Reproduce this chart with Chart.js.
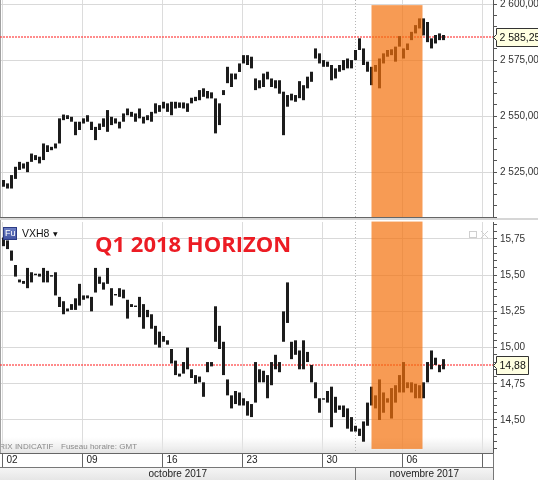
<!DOCTYPE html>
<html>
<head>
<meta charset="utf-8">
<script src="https://cdn.jsdelivr.net/npm/chart.js@4.4.1/dist/chart.umd.min.js"></script>
<style>
    html, body { margin: 0; padding: 0; background: #fff; }
    #wrap { position: relative; width: 538px; height: 480px; overflow: hidden; background: #d6d6d6; }
    canvas { background: #fff; }
    #top { position: absolute; left: 0; top: 0; }
    #bot { position: absolute; left: 0; top: 220px; }
</style>
</head>
<body>
<div id="wrap">
    <canvas id="top" width="538" height="218"></canvas>
    <canvas id="bot" width="538" height="260"></canvas>
</div>
<script>
// --- data: one bar per quarter of a trading day (low / high) ---
const spLow = [2518.5, 2517.7, 2517.7, 2522, 2526, 2526.6, 2525, 2529.6, 2530.4, 2528.9,
    2530.4, 2534, 2534.8, 2535.6, 2537.8, 2548.2, 2548.7, 2547.5, 2541.5, 2543.8,
    2546.7, 2547.5, 2543.8, 2539.3, 2543.8, 2545.2, 2543, 2546, 2546.7, 2544.5,
    2547.5, 2550.4, 2549.7, 2547.5, 2549, 2546.7, 2548.2, 2547.5, 2551.2, 2551.9,
    2553.4, 2551.9, 2550.4, 2553.4, 2553.7, 2553.4, 2551.9, 2555.7, 2556.7, 2557.1,
    2558.6, 2557.9, 2557.9, 2542.3, 2546, 2559.4, 2564.7, 2563, 2566.4, 2569.7,
    2573.5, 2572.8, 2571.3, 2561.6, 2562.4, 2563, 2566.4, 2563, 2562.4, 2560,
    2541.5, 2554.2, 2557, 2556.4, 2558, 2557.1, 2562.4, 2565.3, 2575.7, 2573.5,
    2572, 2572, 2566, 2566.8, 2569.8, 2570.5, 2571.3, 2571.3, 2575, 2579.5,
    2572.8, 2569.8, 2563.8, 2569.8, 2562.4, 2573.5, 2576.5, 2577.2, 2574.3, 2581,
    2575.7, 2579.5, 2583.9, 2586.9, 2589.1, 2586, 2583, 2580.2, 2582.4, 2583.9, 2583.9];
const spHigh = [2521.5, 2520, 2523.7, 2527.4, 2529.6, 2528.9, 2529.6, 2533.3, 2532.6, 2531.9,
    2537.8, 2537, 2536.3, 2537.8, 2549, 2550.7, 2550.4, 2549.7, 2547.5, 2547.5,
    2549, 2550.4, 2547.5, 2545.2, 2546.7, 2549, 2552.7, 2549.7, 2549, 2547.5,
    2551.2, 2553.4, 2551.9, 2551.2, 2553.4, 2549.7, 2550.4, 2551.9, 2555.7, 2554.9,
    2556.4, 2555.7, 2556.4, 2556.4, 2556.1, 2556.1, 2555.7, 2558.2, 2558.6, 2561.6,
    2562.4, 2561.2, 2560.6, 2557.9, 2555.7, 2561.6, 2572, 2569, 2569, 2573.5,
    2577.2, 2577.2, 2576.5, 2566.8, 2566, 2569, 2569.8, 2566.8, 2566, 2566,
    2560.9, 2559.4, 2560, 2559.4, 2565.6, 2563.8, 2567.6, 2569.8, 2580.2, 2578,
    2575, 2574.3, 2572.8, 2571.3, 2572.8, 2575, 2575.7, 2575, 2579.5, 2584.7,
    2580.2, 2574.3, 2572, 2572.8, 2575.7, 2578, 2579.5, 2579.8, 2581, 2585.7,
    2580.2, 2582.4, 2587.6, 2590.6, 2593.6, 2593.6, 2592, 2584.7, 2586.2, 2586.9, 2586.2];
const vxLow = [15.70, 15.68, 15.60, 15.49, 15.45, 15.44, 15.41, 15.45, 15.50, 15.49,
    15.45, 15.45, 15.49, 15.36, 15.28, 15.23, 15.25, 15.26, 15.26, 15.29,
    15.33, 15.34, 15.25, 15.38, 15.44, 15.40, 15.44, 15.29, 15.36, 15.35,
    15.34, 15.20, 15.28, 15.28, 15.21, 15.13, 15.21, 15.13, 15.02, 15.00,
    15.04, 15.02, 14.89, 14.81, 14.80, 14.82, 14.85, 14.79, 14.75, 14.76,
    14.66, 14.83, 14.87, 15.04, 14.99, 14.81, 14.67, 14.58, 14.61, 14.60,
    14.60, 14.53, 14.52, 14.62, 14.76, 14.76, 14.65, 14.74, 14.85, 14.83,
    15.04, 15.17, 14.92, 14.95, 14.85, 14.85, 14.90, 14.76, 14.65, 14.55,
    14.64, 14.62, 14.45, 14.55, 14.57, 14.52, 14.44, 14.42, 14.42, 14.39,
    14.35, 14.46, 14.60, 14.58, 14.50, 14.55, 14.62, 14.51, 14.62, 14.69,
    14.69, 14.72, 14.69, 14.65, 14.65, 14.65, 14.76, 14.85, 14.88, 14.83, 14.85];
const vxHigh = [15.76, 15.74, 15.67, 15.57, 15.47, 15.46, 15.55, 15.52, 15.51, 15.51,
    15.55, 15.53, 15.50, 15.52, 15.35, 15.32, 15.27, 15.30, 15.34, 15.44,
    15.36, 15.36, 15.35, 15.55, 15.49, 15.45, 15.55, 15.41, 15.37, 15.41,
    15.40, 15.33, 15.30, 15.29, 15.35, 15.30, 15.26, 15.23, 15.15, 15.11,
    15.08, 15.05, 14.99, 14.91, 14.82, 14.90, 15.00, 14.85, 14.81, 14.80,
    14.76, 14.90, 14.90, 15.285, 15.15, 15.04, 14.78, 14.67, 14.70, 14.69,
    14.65, 14.63, 14.61, 14.90, 14.85, 14.84, 14.81, 14.90, 14.95, 14.90,
    15.25, 15.45, 15.04, 15.05, 14.98, 15.05, 14.97, 14.88, 14.76, 14.65,
    14.65, 14.70, 14.73, 14.66, 14.60, 14.60, 14.58, 14.52, 14.46, 14.44,
    14.49, 14.62, 14.73, 14.67, 14.78, 14.69, 14.65, 14.72, 14.74, 14.81,
    14.90, 14.76, 14.76, 14.75, 14.74, 14.76, 14.90, 14.98, 14.93, 14.88, 14.92];

// x axis, in bar slots (4 slots per day, 20 per week)
const weekTicks = [-0.25, 19.75, 39.75, 59.75, 79.75, 99.75, 119.75];
const weekLabels = ['02', '09', '16', '23', '30', '06', ''];
const monthStart = 87.75; // 1er novembre
const monthLabels = ['octobre 2017', 'novembre 2017'];
const highlight = [92, 104.75];

const spMajor = [2525, 2550, 2575, 2600];
const vxMajor = [14.50, 14.75, 15.00, 15.25, 15.50, 15.75];
const spLast = 2585.25;
const vxLast = 14.88;

const FONT = 'Liberation Sans';

const fmt = v => {
    let s = v.toFixed(2).replace('.', ',');
    if (v >= 1000) s = s.slice(0, -6) + ' ' + s.slice(-6);
    return s;
};
const isIn = (list, v) => list.some(m => Math.abs(m - v) < 1e-6);
const steps = (a, b, st) => {
    const out = [];
    for (let v = a; v <= b + 1e-9; v = +(v + st).toFixed(4)) out.push(v);
    return out;
};

function xScale(withLabels) {
    return {
        type: 'linear', min: -0.875, max: 122.375, offset: false,
        afterBuildTicks: s => { s.ticks = weekTicks.map(v => ({ value: v })); },
        afterFit: s => {
            s.height = withLabels ? 27 : 1;
            s.paddingLeft = 0; s.paddingRight = 0;
        },
        grid: { color: '#dcdcdc', lineWidth: 1, offset: false, drawTicks: withLabels, tickLength: 14, tickColor: '#666' },
        border: { color: '#666' },
        ticks: {
            display: withLabels, autoSkip: false, maxRotation: 0, align: 'start',
            labelOffset: 4, padding: -13, color: '#222',
            font: { family: FONT, size: 10 },
            callback: (v, i) => weekLabels[i]
        }
    };
}

function yScale(min, max, step, major) {
    return {
        position: 'right', min: min, max: max,
        afterBuildTicks: s => { s.ticks = steps(Math.ceil(min / step) * step, max, step).map(v => ({ value: v })); },
        afterFit: s => {
            s.width = 45;
            s.paddingTop = 0; s.paddingBottom = 0;
        },
        grid: {
            color: c => (c.tick && isIn(major, c.tick.value)) ? '#d9d9d9' : 'rgba(0,0,0,0)',
            tickColor: '#555', tickLength: 4, lineWidth: 1
        },
        border: { color: '#555' },
        ticks: {
            autoSkip: false, padding: 3, color: '#333',
            font: { family: FONT, size: 10 },
            callback: v => isIn(major, v) ? fmt(v) : ''
        }
    };
}

function overlay(last, hl, tagW) {
    return {
        id: 'overlay',
        beforeDatasetsDraw(chart) {
            const { ctx, chartArea: a, scales: { x, y } } = chart;
            ctx.save();
            // left frame edge
            ctx.strokeStyle = '#a0a0a0';
            ctx.beginPath(); ctx.moveTo(0.5, 0); ctx.lineTo(0.5, a.bottom); ctx.stroke();
            const xm = Math.round(x.getPixelForValue(monthStart)) + 0.5;
            ctx.strokeStyle = '#b5b5b5';
            ctx.setLineDash([1, 2]);
            ctx.beginPath(); ctx.moveTo(xm, a.top); ctx.lineTo(xm, a.bottom); ctx.stroke();
            // last price line
            const yp = Math.round(y.getPixelForValue(last));
            ctx.strokeStyle = 'rgba(255,50,50,0.75)';
            ctx.lineWidth = 1.5;
            ctx.setLineDash([2, 1]);
            ctx.beginPath(); ctx.moveTo(a.left, yp); ctx.lineTo(a.right, yp); ctx.stroke();
            ctx.restore();
        },
        afterDatasetsDraw(chart) {
            const { ctx, scales: { x, y } } = chart;
            const x0 = x.getPixelForValue(highlight[0]), x1 = x.getPixelForValue(highlight[1]);
            const y0 = y.getPixelForValue(hl[0]), y1 = y.getPixelForValue(hl[1]);
            ctx.save();
            ctx.fillStyle = 'rgba(243,112,12,0.7)';
            ctx.fillRect(x0, y0, x1 - x0, y1 - y0);
            ctx.restore();
        },
        afterDraw(chart) {
            const { ctx, chartArea: a, scales: { y } } = chart;
            const yp = Math.round(y.getPixelForValue(last)) + 0.5;
            const l = a.right + 3.5;
            ctx.save();
            ctx.fillStyle = '#ffffe1';
            ctx.strokeStyle = '#333';
            ctx.setLineDash([]);
            ctx.beginPath();
            ctx.moveTo(l, yp - 9); ctx.lineTo(l + tagW, yp - 9); ctx.lineTo(l + tagW, yp + 9);
            ctx.lineTo(l, yp + 9); ctx.lineTo(l, yp + 3); ctx.lineTo(l - 3, yp); ctx.lineTo(l, yp - 3);
            ctx.closePath();
            ctx.fill(); ctx.stroke();
            ctx.fillStyle = '#111';
            ctx.font = '10.5px "' + FONT + '"';
            ctx.textBaseline = 'middle';
            ctx.fillText(fmt(last), l + 3, yp + 1);
            ctx.restore();
        }
    };
}

// frame of the lower panel: footer text, date rows, symbol, title
const lowerFrame = {
    id: 'lowerFrame',
    beforeDatasetsDraw(chart) {
        const { ctx, chartArea: a } = chart;
        const g = ctx.createLinearGradient(0, a.bottom - 16, 0, a.bottom);
        g.addColorStop(0, 'rgba(235,235,235,0)');
        g.addColorStop(1, 'rgba(228,228,228,1)');
        ctx.save();
        ctx.fillStyle = g;
        ctx.fillRect(a.left, a.bottom - 16, a.right - a.left, 16);
        ctx.fillStyle = '#8a8a8a';
        ctx.font = '8px "' + FONT + '"';
        ctx.textBaseline = 'middle';
        ctx.fillText('PRIX INDICATIF', -6, a.bottom - 6);
        ctx.fillText('Fuseau horaire: GMT', 61, a.bottom - 6);
        // window buttons, top right
        ctx.strokeStyle = '#cfcfcf';
        ctx.strokeRect(469.5, 11.5, 7, 6);
        ctx.beginPath();
        ctx.moveTo(481, 11); ctx.lineTo(488, 18); ctx.moveTo(488, 11); ctx.lineTo(481, 18);
        ctx.stroke();
        ctx.restore();
    },
    afterDraw(chart) {
        const { ctx, chartArea: a, scales: { x } } = chart;
        const H = chart.height;
        const rowY = a.bottom + 14;
        const xm = Math.round(x.getPixelForValue(monthStart)) + 0.5;
        ctx.save();
        const g = ctx.createLinearGradient(0, rowY, 0, H);
        g.addColorStop(0, '#f6f6f6');
        g.addColorStop(1, '#e6e6e6');
        ctx.fillStyle = g;
        ctx.fillRect(0, rowY, a.right, H - rowY);
        ctx.strokeStyle = '#777';
        ctx.lineWidth = 1;
        ctx.beginPath();
        ctx.moveTo(0, rowY + 0.5); ctx.lineTo(a.right, rowY + 0.5);
        ctx.moveTo(xm, rowY); ctx.lineTo(xm, H);
        ctx.moveTo(a.right + 0.5, a.bottom); ctx.lineTo(a.right + 0.5, H);
        ctx.stroke();
        ctx.fillStyle = '#222';
        ctx.font = '10px "' + FONT + '"';
        ctx.textAlign = 'center';
        ctx.textBaseline = 'middle';
        ctx.fillText(monthLabels[0], xm / 2, rowY + 7);
        ctx.fillText(monthLabels[1], (xm + a.right) / 2, rowY + 7);

        // symbol badge
        ctx.textAlign = 'left';
        const bg = ctx.createLinearGradient(0, 6, 0, 20);
        bg.addColorStop(0, '#7486c9');
        bg.addColorStop(1, '#3f51a0');
        ctx.fillStyle = bg;
        ctx.fillRect(3, 7, 14, 13);
        ctx.strokeStyle = '#2c3b85';
        ctx.strokeRect(3.5, 7.5, 13, 12);
        ctx.fillStyle = '#fff';
        ctx.font = '9px "' + FONT + '"';
        ctx.fillText('Fu', 5, 14);
        ctx.fillStyle = '#111';
        ctx.font = '10.5px "' + FONT + '"';
        ctx.fillText('VXH8', 22, 14);
        ctx.font = '6px "DejaVu Sans"';
        ctx.fillText('\u25BC', 53, 14);

        ctx.fillStyle = '#ec1c24';
        ctx.font = 'bold 22px "Open Sans"';
        ctx.textBaseline = 'alphabetic';
        ctx.fillText('Q1 2018 HORIZON', 95, 32);
        ctx.restore();
    }
};

function barData(lo, hi) {
    return lo.map((v, i) => ({ x: i, y: [v, hi[i]] }));
}

Chart.defaults.font.family = FONT;

const barStyle = { backgroundColor: '#1c1c1c', barThickness: 3, borderWidth: 0, inflateAmount: 0 };

new Chart(document.getElementById('top'), {
    type: 'bar',
    data: { datasets: [Object.assign({ data: barData(spLow, spHigh) }, barStyle)] },
    options: {
        responsive: false, animation: false,
        layout: { padding: 0 },
        plugins: { legend: { display: false }, tooltip: { enabled: false } },
        scales: { x: xScale(false), y: yScale(2505, 2601.8, 5, spMajor) }
    },
    plugins: [overlay(spLast, [2599.5, 2505], 60)]
});

new Chart(document.getElementById('bot'), {
    type: 'bar',
    data: { datasets: [Object.assign({ data: barData(vxLow, vxHigh) }, barStyle)] },
    options: {
        responsive: false, animation: false,
        layout: { padding: { top: 2 } },
        plugins: { legend: { display: false }, tooltip: { enabled: false } },
        scales: { x: xScale(true), y: yScale(14.272, 15.867, 0.05, vxMajor) }
    },
    plugins: [lowerFrame, overlay(vxLast, [15.87, 14.30], 32)]
});
</script>
</body>
</html>
